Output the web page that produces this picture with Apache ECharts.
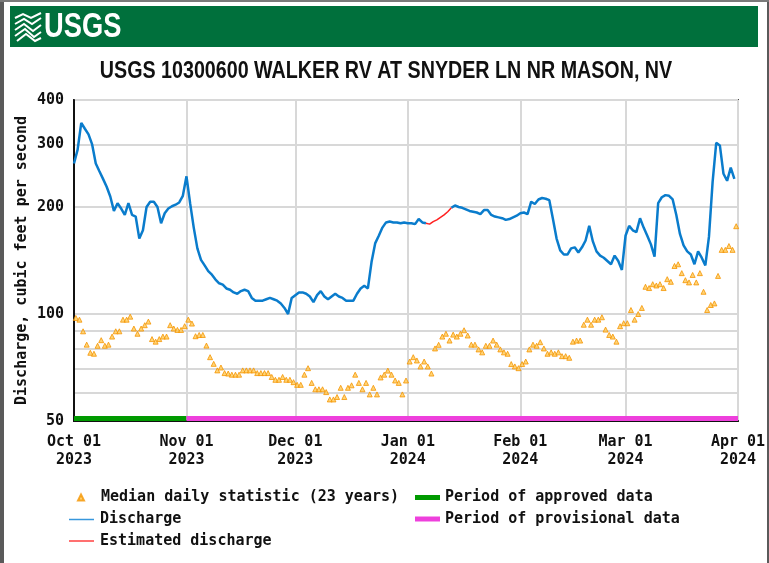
<!DOCTYPE html>
<html>
<head>
<meta charset="utf-8">
<title>USGS 10300600 WALKER RV AT SNYDER LN NR MASON, NV</title>
<script src="https://cdn.jsdelivr.net/npm/echarts@6/dist/echarts.min.js"></script>
<style>
  html, body { margin: 0; padding: 0; background: #fff; }
  #chart { width: 769px; height: 563px; }
</style>
</head>
<body>
<div id="chart"></div>
<script>
// one value per day, starting Oct 01 2023 (cfs)
const startDay = Date.UTC(2023, 9, 1)
const dayMs = 86400000

const discharge = [
  265, 290, 345, 332, 320, 300, 265, 252, 240, 228,
  214, 195, 205, 198, 190, 205, 190, 188, 163, 172,
  200, 207, 207, 200, 180, 192, 198, 201, 203, 206,
  215, 244, 205, 175, 153, 142, 137, 132, 129, 125,
  122, 121, 118, 117, 115, 114, 116, 117, 116, 111,
  109, 109, 109, 110, 111, 110, 109, 107, 104, 100,
  111, 113, 115, 115, 114, 112, 108, 113, 116, 112,
  110, 112, 114, 112, 111, 109, 109, 109, 114, 118,
  120, 118, 140, 158, 166, 175, 181, 182, 181, 181,
  180, 181, 180, 180, 179, 185, 181, 180, 179, 182,
  184, 187, 190, 194, 199, 202, 200, 199, 197, 195,
  194, 193, 191, 196, 196, 190, 188, 187, 186, 184,
  185, 187, 189, 192, 193, 191, 207, 204, 210, 212,
  211, 209, 185, 163, 151, 147, 147, 153, 154, 149,
  154, 161, 177, 160, 150, 146, 144, 141, 138, 146,
  141, 133, 166, 177, 172, 170, 186, 175, 166, 157,
  145, 205, 213, 216, 215, 210, 190, 168, 156, 150,
  147, 138, 150, 144, 137, 165, 235, 303, 298, 248,
  237, 258, 240
]
// day indexes of the estimated (red) stretch
const estimatedFrom = 97
const estimatedTo = 104

const medianDaily = [
  97.5, 96.4, 89.4, 82, 77.8, 77.3, 81.4, 84.4, 81.4, 82,
  86.4, 89.4, 89.4, 96.4, 96.4, 98.3, 91, 88, 91, 93,
  95.2, 85, 83.6, 85, 86.4, 86.4, 93, 91, 90.2, 90.2,
  92.4, 96.4, 94, 86.6, 87.3, 87.3, 81.5, 75.6, 72.4, 69.4,
  70.7, 68.2, 68, 67.5, 67.5, 67.5, 69.4, 69.4, 69.4, 69.4,
  68.2, 68.2, 68.2, 68.2, 66.5, 65.3, 65.3, 66.5, 65.3, 65.3,
  64.3, 63.2, 63.2, 67.5, 70.4, 64, 61.4, 61.4, 61.4, 60.3,
  57.5, 57.5, 58.4, 62, 58.4, 62, 63, 67.5, 64, 61.4,
  64, 59.4, 62, 59.4, 66.3, 67.5, 69.3, 67.5, 65, 64,
  59.4, 65, 73.5, 75.6, 74, 71.2, 73.5, 71.2, 68, 80,
  81.9, 86.4, 88, 84.2, 87.5, 86.4, 88, 90, 87, 82,
  82, 79.5, 78, 81.4, 81.4, 84.2, 82, 79.5, 78, 77.3,
  72.3, 71.2, 70.4, 72.3, 73.5, 79.5, 82, 81.4, 83.3, 80,
  77.3, 78, 77.3, 78, 76.1, 76.1, 75.3, 83.6, 84.2, 84.2,
  93.3, 96.4, 93.3, 96.4, 96.4, 97.9, 90.4, 87.3, 86.4, 83.6,
  92.4, 94.2, 94.2, 102.6, 96.4, 100, 104, 119.3, 118.3, 121.3,
  120.3, 121.3, 118.3, 125.3, 123.2, 136.5, 138, 130.3, 124.5, 122.7,
  128.8, 122.7, 130.3, 115.5, 102.6, 106, 107.1, 128, 151.5, 151.5,
  155.3, 151.5, 176.6
]

const monthTicks = ['2023-10-01', '2023-11-01', '2023-12-01', '2024-01-01', '2024-02-01', '2024-03-01', '2024-04-01']
const yGridValues = [50, 60, 70, 80, 90, 100, 200, 300, 400]
const yLabelValues = [50, 100, 200, 300, 400]

const periodNames = ['Period of approved data', 'Period of provisional data']
const periodStart = ['2023-10-01', '2023-11-01']
const periodEnd = ['2023-11-01', '2024-04-01']
const periodColors = ['#009a00', '#ee40dc']

const monthNames = ['Jan', 'Feb', 'Mar', 'Apr', 'May', 'Jun', 'Jul', 'Aug', 'Sep', 'Oct', 'Nov', 'Dec']
const toTime = s => Date.parse(s + 'T00:00:00Z')
const mono = "'DejaVu Sans Mono', monospace"
const legendText = { fontFamily: mono, fontWeight: 'bold', fontSize: 15, lineHeight: 15, color: '#111' }

const dischargeData = discharge.map((v, i) => [startDay + i * dayMs, (i > estimatedFrom && i < estimatedTo) ? null : v])
const estimatedData = discharge.map((v, i) => [startDay + i * dayMs, (i >= estimatedFrom && i <= estimatedTo) ? v : null])
const medianData = medianDaily.map((v, i) => [startDay + i * dayMs + dayMs / 2, v])

const periodSeries = periodNames.map((name, k) => ({
  name: name,
  type: 'custom',
  itemStyle: { color: periodColors[k] },
  data: [[toTime(periodStart[k]), toTime(periodEnd[k])]],
  z: 5,
  renderItem: (params, api) => {
    const s = api.coord([api.value(0), 50])
    const e = api.coord([api.value(1), 50])
    return {
      type: 'rect',
      shape: { x: s[0], y: s[1] - 5, width: e[0] - s[0], height: 5 },
      style: { fill: api.visual('color') }
    }
  }
}))

const chart = echarts.init(document.getElementById('chart'))
chart.setOption({
  animation: false,
  backgroundColor: '#fff',
  graphic: [
    { type: 'rect', z: -10, shape: { x: 0, y: 0, width: 4, height: 563 }, style: { fill: '#5a5a5a' } },
    { type: 'rect', z: -10, shape: { x: 767, y: 0, width: 2, height: 563 }, style: { fill: '#5a5a5a' } },
    { type: 'rect', z: -10, shape: { x: 0, y: 0, width: 769, height: 2 }, style: { fill: '#7a7a7a' } },
    { type: 'rect', z: -10, shape: { x: 10, y: 6, width: 748, height: 41 }, style: { fill: '#00703c' } },
    {
      type: 'group', x: 15, y: 12,
      children: [
        { type: 'polyline', shape: { points: [[0, 6], [8, 2], [16, 6], [26, 1]] }, style: { stroke: '#fff', lineWidth: 2, fill: null } },
        { type: 'polyline', shape: { points: [[0, 12], [9, 7], [17, 12], [26, 6]] }, style: { stroke: '#fff', lineWidth: 2, fill: null } },
        { type: 'polyline', shape: { points: [[0, 18], [9, 12], [18, 19], [26, 13]] }, style: { stroke: '#fff', lineWidth: 2, fill: null } },
        { type: 'polyline', shape: { points: [[0, 24], [10, 17], [19, 25], [26, 20]] }, style: { stroke: '#fff', lineWidth: 2, fill: null } },
        { type: 'polyline', shape: { points: [[2, 29], [11, 22], [20, 29], [26, 26]] }, style: { stroke: '#fff', lineWidth: 2, fill: null } }
      ]
    },
    {
      type: 'text', x: 44, y: 27, scaleX: 0.78,
      style: { text: 'USGS', fill: '#fff', font: "bold 35px 'Liberation Sans', Arial, sans-serif", textVerticalAlign: 'middle' }
    },
    {
      type: 'text', x: 386, y: 71, scaleX: 0.82,
      style: {
        text: 'USGS 10300600 WALKER RV AT SNYDER LN NR MASON, NV',
        fill: '#111', font: "bold 24px 'Liberation Sans', Arial, sans-serif",
        textAlign: 'center', textVerticalAlign: 'middle'
      }
    }
  ],
  grid: { left: 74, right: 31, top: 100, bottom: 142, show: true, borderColor: '#4a4a4a', borderWidth: 2, outerBoundsMode: 'none' },
  legend: [
    {
      left: 77, top: 490, orient: 'vertical', padding: 0,
      itemWidth: 6, itemHeight: 6,
      textStyle: Object.assign({ padding: [0, 0, 0, 12] }, legendText),
      data: [{ name: 'Median daily statistic (23 years)', icon: 'triangle' }]
    },
    {
      left: 69, top: 512, orient: 'vertical', padding: 0,
      itemWidth: 25, itemHeight: 1.5, itemGap: 6.5,
      textStyle: Object.assign({ padding: [0, 0, 0, 1] }, legendText),
      data: [
        { name: 'Discharge', icon: 'rect', itemStyle: { color: '#3797dc' } },
        { name: 'Estimated discharge', icon: 'rect', itemStyle: { color: '#ff4040' } }
      ]
    },
    {
      left: 415, top: 490, orient: 'vertical', padding: 0,
      itemWidth: 25, itemHeight: 5, itemGap: 6.5,
      textStyle: legendText,
      data: periodNames.map(n => ({ name: n, icon: 'rect' }))
    }
  ],
  xAxis: {
    type: 'value',
    min: toTime(monthTicks[0]),
    max: toTime(monthTicks[monthTicks.length - 1]),
    axisLine: { show: true, lineStyle: { color: '#111', width: 2 } },
    axisTick: { show: false, customValues: monthTicks.map(toTime) },
    splitLine: { show: true, lineStyle: { color: '#d8d8d8', width: 2 } },
    axisLabel: {
      customValues: monthTicks.map(toTime),
      margin: 12,
      fontFamily: mono, fontWeight: 'bold', fontSize: 15, lineHeight: 18, color: '#111',
      formatter: v => {
        const d = new Date(v)
        return monthNames[d.getUTCMonth()] + ' ' + String(d.getUTCDate()).padStart(2, '0') + '\n' + d.getUTCFullYear()
      }
    }
  },
  yAxis: {
    type: 'log',
    logBase: 10,
    min: 50,
    max: 400,
    name: 'Discharge, cubic feet per second',
    nameLocation: 'middle',
    nameRotate: 90,
    nameGap: 44,
    nameMoveOverlap: false,
    nameTextStyle: { fontFamily: mono, fontWeight: 'bold', fontSize: 15, color: '#111' },
    axisLine: { show: true, lineStyle: { color: '#111', width: 2 } },
    axisTick: { show: false, customValues: yGridValues },
    splitLine: { show: true, lineStyle: { color: '#d8d8d8', width: 2 } },
    axisLabel: {
      customValues: yLabelValues,
      margin: 10,
      fontFamily: mono, fontWeight: 'bold', fontSize: 15, color: '#111'
    }
  },
  series: [
    {
      name: 'Median daily statistic (23 years)',
      type: 'scatter',
      symbol: 'triangle',
      symbolSize: 5,
      itemStyle: { color: '#ffc955', borderColor: '#f59500', borderWidth: 1 },
      data: medianData,
      z: 3
    },
    {
      name: 'Discharge',
      type: 'line',
      symbol: 'none',
      lineStyle: { color: '#0a7ccc', width: 2.5 },
      itemStyle: { color: '#0a7ccc' },
      data: dischargeData,
      z: 4
    },
    {
      name: 'Estimated discharge',
      type: 'line',
      symbol: 'none',
      lineStyle: { color: '#ff2020', width: 1.5 },
      itemStyle: { color: '#ff2020' },
      data: estimatedData,
      z: 4
    },
    ...periodSeries
  ]
})
</script>
</body>
</html>
